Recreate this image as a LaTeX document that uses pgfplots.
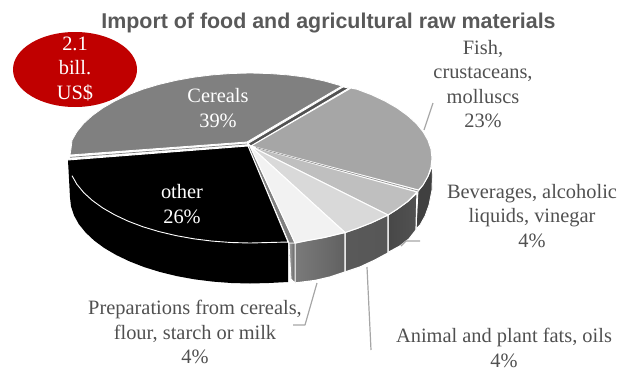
\documentclass[border=0pt]{standalone}
\usepackage{fontspec}
\setmainfont{Liberation Serif}
\newfontfamily\titlefont{Liberation Sans}
\usepackage{pgfplots}
\pgfplotsset{compat=1.18}
\definecolor{labeltxt}{HTML}{505050}
\definecolor{leadergray}{HTML}{A6A6A6}
\definecolor{callout}{HTML}{C00000}
\tikzset{lab/.style={align=center, inner sep=0pt, text=labeltxt, font=\fontsize{20.4}{24.5}\selectfont}}
\begin{document}
\begin{tikzpicture}
\begin{axis}[
  hide axis, scale only axis, width=619pt, height=370pt,
  xmin=0, xmax=619, ymin=0, ymax=370, y dir=reverse,
  every axis plot/.append style={mark=none, line join=round},
]
% full canvas, so the page keeps its size
\path (axis cs:0,0) rectangle (axis cs:619,370);
% side walls
\addplot[fill=black, draw=none] coordinates {(68,160)(70,197.5)(71,206.5)(74,215.4)(78.8,224.1)(85.6,232.5)(94.1,240.5)(104.4,248.1)(116.2,255)(129.6,261.4)(144.2,267.1)(160,272)(176.8,276.1)(194.4,279.3)(212.6,281.6)(231.2,283)(250,283.5)(268.8,283)(288,282)(288,243)} --cycle;
\addplot[fill=black!75, draw=white, line width=0.8pt] coordinates {(432.5,166)(428,176.5)(423,185)(418,191.5)(416,229)(420,225)(425,216)(429,205)(432,190)} --cycle;
\addplot[left color=black!72, right color=black!68, draw=white, line width=1.2pt] coordinates {(417,193)(407.6,201.5)(397.2,209.1)(388,215)(388,252.5)(400,246)(409,239)(416,230)} --cycle;
\addplot[left color=black!65, right color=black!66, draw=white, line width=1.2pt] coordinates {(388,215)(371.8,222.6)(357,228.4)(345,232.5)(345,272)(360,267)(375,260)(388,253)} --cycle;
\addplot[left color=black!52, right color=black!62, draw=white, line width=1.2pt] coordinates {(295,243)(306.2,240.7)(324,237.5)(345,232.5)(345,272)(330,277)(315,280.5)(295,283)} --cycle;
\addplot[left color=black!38, right color=black!62, draw=white, line width=0.8pt] coordinates {(289,243)(295,243)(295,283)(291,279)} --cycle;
% top faces
\addplot[fill=black!50, draw=white, line width=0.8pt] coordinates {(247,142)(70,155)(71,149)(72,140.3)(76.9,131.7)(83.7,123.4)(92.4,115.5)(102.8,108)(114.8,101.1)(128.2,94.8)(143,89.2)(159,84.4)(176,80.4)(193.8,77.2)(212.2,74.9)(231,73.5)(250,73)(269,73.5)(287.8,74.9)(306.2,77.2)(324,80.9)(342,86)} --cycle;
\addplot[fill=black!68, draw=white, line width=0.8pt] coordinates {(248,143.5)(343,87)(349,88)(251,146)} --cycle;
\addplot[fill=black!35, draw=white, line width=1pt] coordinates {(251,146)(351,88)(357,89.2)(371.8,94.8)(385.2,101.1)(397.2,108)(407.6,115.5)(416.3,123.4)(423.1,131.7)(428,140.3)(431,149.1)(432,158)(431,167.1)(428,176.1)(423.1,184.9)(418.5,190)} --cycle;
\addplot[fill=black!25, draw=white, line width=1pt] coordinates {(250,146)(417,192)(407.6,201.5)(397.2,209.1)(388,215)} --cycle;
\addplot[fill=black!15, draw=white, line width=1pt] coordinates {(250,146)(388,215)(385.2,216.2)(371.8,222.6)(357,228.4)(345,232.5)} --cycle;
\addplot[fill=black!50, draw=white, line width=0.8pt] coordinates {(248,146)(250,146)(295,243)(289,243)} --cycle;
\addplot[fill=black!5, draw=white, line width=1pt] coordinates {(250,146)(345,232.5)(341,233.3)(324,237.5)(306.2,240.7)(295,243)} --cycle;
\addplot[fill=black, draw=none] coordinates {(248,146)(68,160)(69,166.9)(72,175.7)(76.9,184.3)(83.7,192.6)(92.4,200.5)(102.8,208)(114.8,214.9)(128.2,221.2)(143,226.8)(159,231.6)(176,235.6)(193.8,238.8)(212.2,241.1)(231,242.5)(250,243)(269,242.5)(288,242)} --cycle;
% rim and cut edges of the black slice
\addplot[white, line width=0.9pt] coordinates {(72,175.7)(76.9,184.3)(83.7,192.6)(92.4,200.5)(102.8,208)(114.8,214.9)(128.2,221.2)(143,226.8)(159,231.6)(176,235.6)(193.8,238.8)(212.2,241.1)(231,242.5)(250,243)(269,242.5)(288,242)(248,146)(68,160)};
% thin grey seams inside the double cut lines
\addplot[black!50, line width=0.7pt] coordinates {(70,157.3)(247,144)};
\addplot[black!45, line width=0.6pt] coordinates {(256,147.5)(418,191)};
% leader lines
\addplot[leadergray, line width=1.2pt] coordinates {(433,103)(424,130)};
\addplot[leadergray, line width=1.2pt] coordinates {(420,241)(406,241)(401,246)};
\addplot[leadergray, line width=1.2pt] coordinates {(367,267)(371,350)};
\addplot[leadergray, line width=1.2pt] coordinates {(317,283)(305,325)(293,325)};
% total value callout
\fill[callout] (axis cs:75,69.5) ellipse [x radius=62pt, y radius=37.5pt];
% text
\node[font=\titlefont\bfseries\fontsize{21.4}{24}\selectfont, text=black!65, inner sep=0pt] at (axis cs:328.5,23) {Import of food and agricultural raw materials};
\node[lab, text=white] at (axis cs:75,69) {2.1\\bill.\\US\$};
\node[lab, text=white] at (axis cs:218,108) {Cereals\\39\%};
\node[lab, text=white] at (axis cs:182,204) {other\\26\%};
\node[lab] at (axis cs:483,84) {Fish,\\crustaceans,\\molluscs\\23\%};
\node[lab] at (axis cs:532,216) {Beverages, alcoholic\\liquids, vinegar\\4\%};
\node[lab] at (axis cs:195,332) {Preparations from cereals,\\flour, starch or milk\\4\%};
\node[lab] at (axis cs:504,348) {Animal and plant fats, oils\\4\%};
\end{axis}
\end{tikzpicture}
\end{document}
